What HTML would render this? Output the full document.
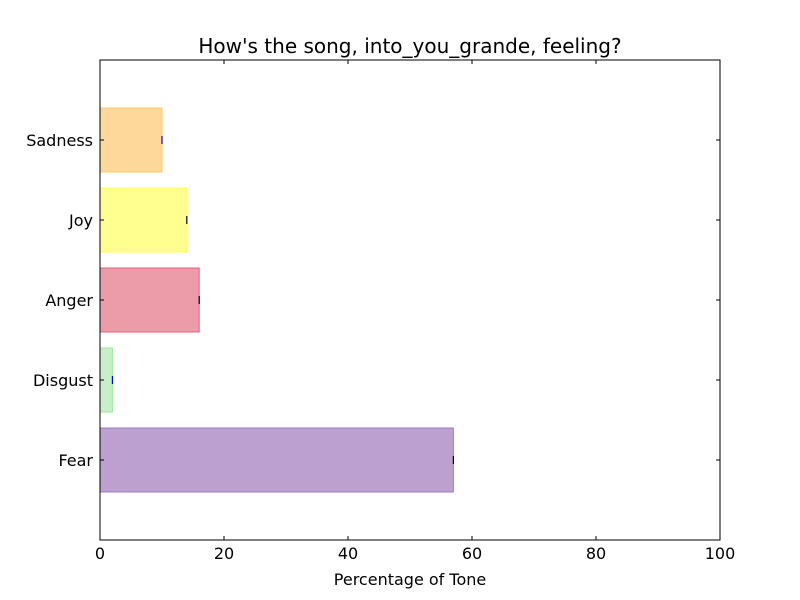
<!DOCTYPE html>
<html><head><meta charset="utf-8"><style>
body{margin:0;background:#fff;}
svg{display:block;font-family:"DejaVu Sans","Liberation Sans",sans-serif;}
</style></head><body>
<svg id="chart" width="800" height="600">
<rect width="800" height="600" fill="#fff"/>
<text x="410" y="53" font-size="20" text-anchor="middle">How's the song, into_you_grande, feeling?</text>
<text x="410" y="585" font-size="16" text-anchor="middle">Percentage of Tone</text>
<g id="plot"></g>
</svg>
<script>
const categories = ["Fear","Disgust","Anger","Joy","Sadness"];
const values = [57, 2, 16, 14, 10];
const fills = ["#bba0d0","#c8f0c8","#ec9ba8","#ffff8f","#fed89a"];
const strokes = ["#a27cc5","#9ee79e","#e3667c","#ffff55","#ffc766"];
const errColors = ["#000","#00f","#000","#000","#00f"];
const xTicks = [0,20,40,60,80,100];

const L=100,R=720,T=60,B=540;
const xs=v=>L+(v/100)*(R-L);
const ys=i=>460-i*80;
const NS="http://www.w3.org/2000/svg";
const g=document.getElementById('plot');
function mk(t,a){const e=document.createElementNS(NS,t);for(const k in a)e.setAttribute(k,a[k]);g.appendChild(e);return e;}

categories.forEach((c,i)=>{
  const y=ys(i);
  const r=mk('rect',{x:xs(0),y:y-32,width:xs(values[i])-xs(0),height:64,fill:fills[i],stroke:strokes[i],'stroke-width':1});
  
  
  const e=mk('line',{x1:xs(values[i]),x2:xs(values[i]),y1:y-4,y2:y+4,stroke:errColors[i],'stroke-width':1.2});
  
  
  const lt=mk('line',{x1:L,x2:L+4,y1:y,y2:y,stroke:'#000'});
  
  
  const rt=mk('line',{x1:R-4,x2:R,y1:y,y2:y,stroke:'#000'});
  
  
  const t=mk('text',{x:L-7,y:y+6,'font-size':16,'text-anchor':'end'});
  t.textContent=c;
  
  
});
xTicks.forEach(v=>{
  const x=xs(v);
  const a=mk('line',{x1:x,x2:x,y1:B,y2:B-4,stroke:'#000'});
  
  
  const b=mk('line',{x1:x,x2:x,y1:T,y2:T+4,stroke:'#000'});
  
  
  const t=mk('text',{x:x,y:B+19,'font-size':16,'text-anchor':'middle'});
  t.textContent=v;
  
  
});
const f=mk('rect',{x:L,y:T,width:R-L,height:B-T,fill:'none',stroke:'#000','stroke-width':1});


</script>
</body></html>
